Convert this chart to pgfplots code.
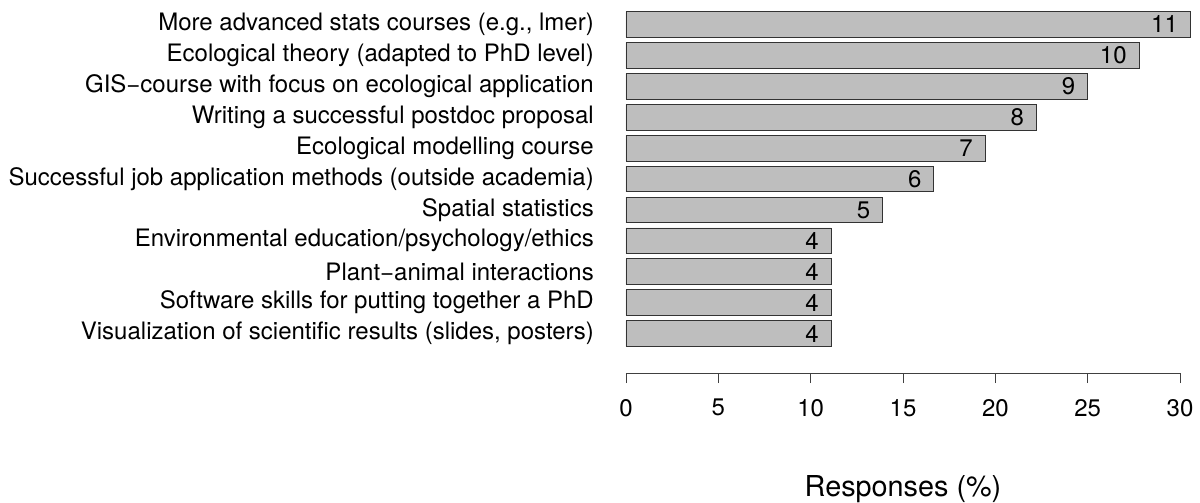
\documentclass[border=0pt]{standalone}
\usepackage{fontspec}
\setmainfont{TeX Gyre Heros}
\usepackage{pgfplots}
\usepackage{pgfplotstable}
\pgfplotsset{compat=1.18}
\pgfplotstableread{
pos pct n
11 30.556 11
10 27.778 10
9 25.000 9
8 22.222 8
7 19.444 7
6 16.667 6
5 13.889 5
4 11.111 4
3 11.111 4
2 11.111 4
1 11.111 4
}\data
\definecolor{bargray}{HTML}{BEBEBE}
\begin{document}
\fontsize{24bp}{28bp}\selectfont
\begin{tikzpicture}
\useasboundingbox (-626bp,-130bp) rectangle (574bp,373bp);
\begin{axis}[
 at={(0,0)}, anchor=south west,
 scale only axis, width=572.5bp, height=364bp,
 xmin=0, xmax=31, ymin=-0.278, ymax=11.5,
 clip=false,
 separate axis lines,
 axis x line*=bottom, axis y line*=left,
 x axis line style={draw=none}, y axis line style={draw=none},
 xtick={0,5,...,30},
 ytick={1,...,11},
 yticklabels={
  {Visualization of scientific results (slides, posters)},
  {Software skills for putting together a PhD},
  {Plant−animal interactions},
  {Environmental education/psychology/ethics},
  {Spatial statistics},
  {Successful job application methods (outside academia)},
  {Ecological modelling course},
  {Writing a successful postdoc proposal},
  {GIS−course with focus on ecological application},
  {Ecological theory (adapted to PhD level)},
  {More advanced stats courses (e.g., lmer)}},
 tick align=outside,
 major tick length=10bp,
 xtick style={draw=black!75, line width=0.8bp},
 ytick style={draw=none},
 /pgf/number format/assume math mode=true,
 xticklabel style={yshift=-8bp},
 yticklabel style={anchor=east, inner sep=0pt, xshift=-22bp},
]
\draw[black!75, line width=0.8bp] (axis cs:0,-0.278) -- (axis cs:30,-0.278);
\addplot[xbar, bar width=25.75bp, fill=bargray, draw=black!80, line width=0.8bp,
  point meta=explicit symbolic, nodes near coords,
  every node near coord/.append style={anchor=east, xshift=-4bp, text=black}]
  table[x=pct, y=pos, meta=n] {\data};
\node[anchor=base, yshift=-123bp, inner sep=0pt, font=\fontsize{28.8bp}{32bp}\selectfont]
  at (axis cs:15,-0.278) {Responses (\%)};
\end{axis}
\end{tikzpicture}
\end{document}
